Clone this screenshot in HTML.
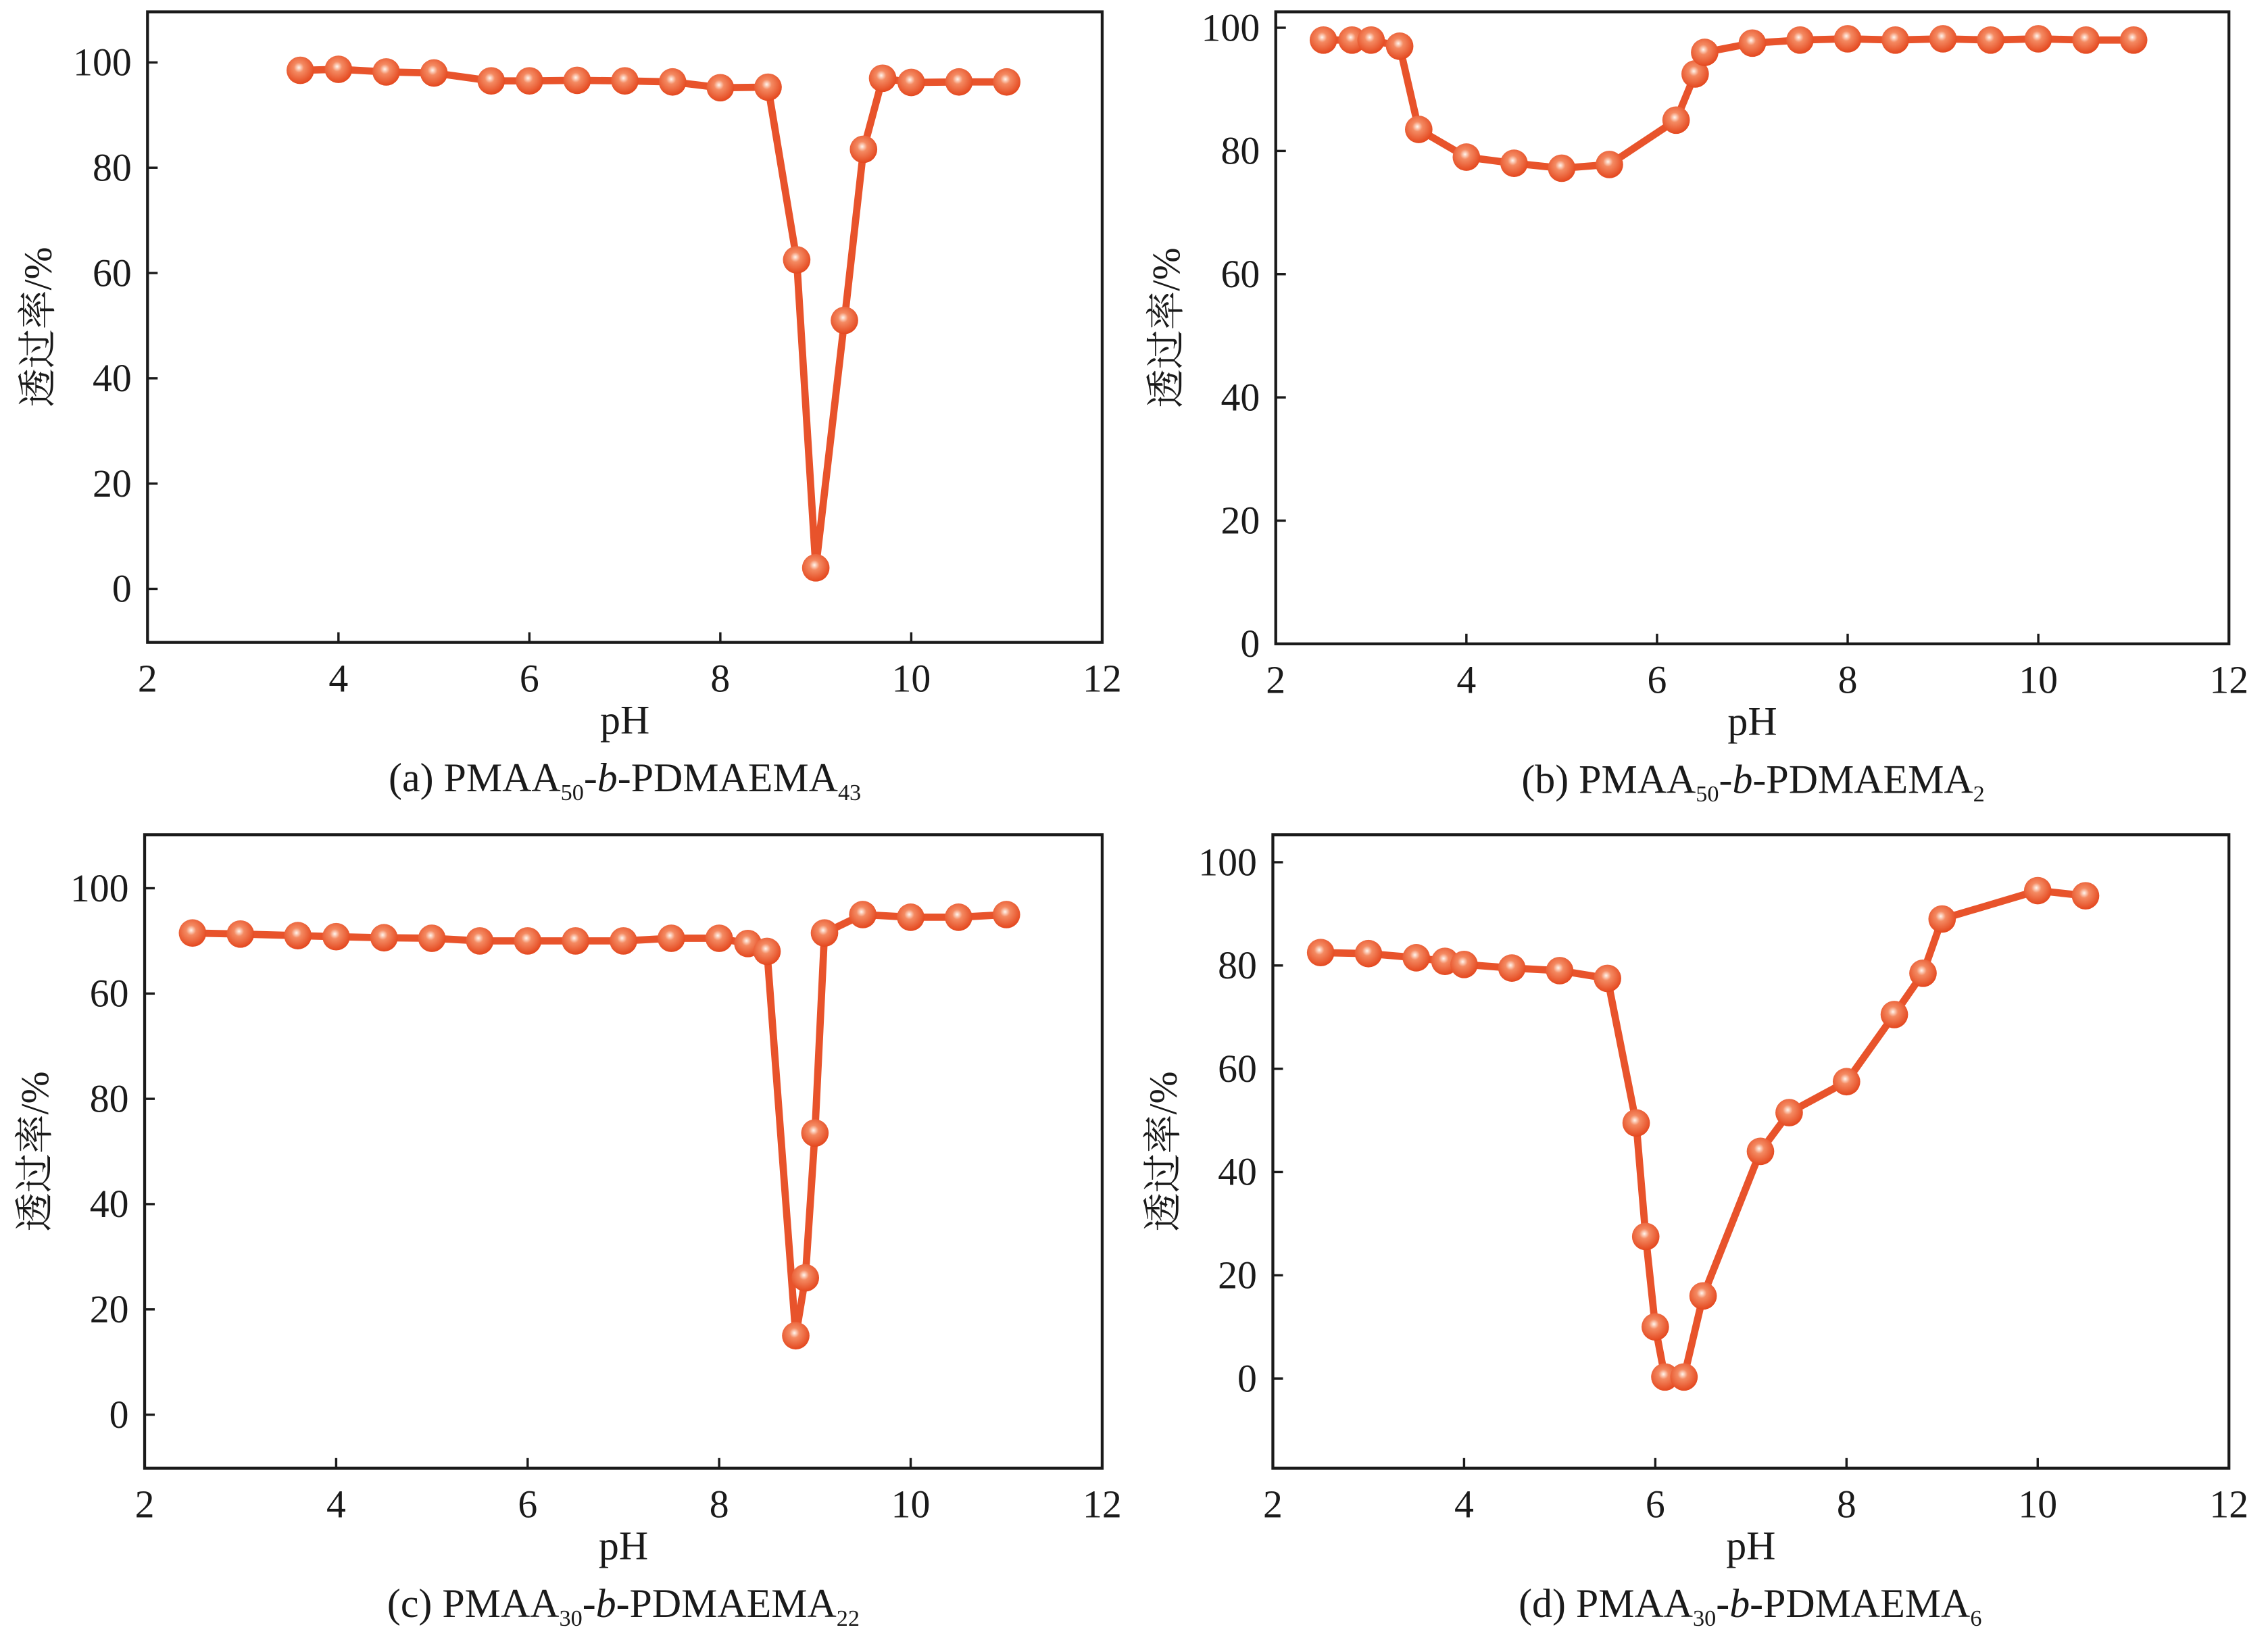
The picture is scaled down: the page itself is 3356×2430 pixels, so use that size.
<!DOCTYPE html>
<html><head><meta charset="utf-8"><style>
html,body{margin:0;padding:0;background:#fff}
svg{display:block}
text{font-family:"Liberation Serif","Noto Serif CJK SC",serif;fill:#1a1a1a}
</style></head><body>
<svg id="fig" width="3356" height="2430" viewBox="0 0 1568 1135" xmlns="http://www.w3.org/2000/svg">
<defs>
<radialGradient id="ball" cx="0.45" cy="0.4" r="0.6">
<stop offset="0" stop-color="#fff6ee"/><stop offset="0.3" stop-color="#f48a62"/><stop offset="1" stop-color="#e4471e"/>
</radialGradient>
</defs>
</svg>
<script>
const xA=[3.6,4,4.5,5,5.6,6,6.5,7,7.5,8,8.5,8.8,9,9.3,9.5,9.7,10,10.5,11];
const yA=[98.5,98.7,98.2,98,96.5,96.5,96.6,96.5,96.3,95.2,95.3,62.5,4,51,83.5,97,96.2,96.3,96.3];
const xB=[2.5,2.8,3,3.3,3.5,4,4.5,5,5.5,6.2,6.4,6.5,7,7.5,8,8.5,9,9.5,10,10.5,11];
const yB=[98,98,98,97,83.5,79,78,77.2,77.8,85,92.5,96,97.5,98,98.2,98,98.2,98,98.2,98,98];
const xC=[2.5,3,3.6,4,4.5,5,5.5,6,6.5,7,7.5,8,8.3,8.5,8.8,8.9,9,9.1,9.5,10,10.5,11];
const yC=[91.5,91.3,91,90.8,90.6,90.5,90,90,90,90,90.5,90.5,89.5,88,15,26,53.5,91.5,95,94.5,94.5,95];
const xD=[2.5,3,3.5,3.8,4,4.5,5,5.5,5.8,5.9,6,6.1,6.3,6.5,7.1,7.4,8,8.5,8.8,9,10,10.5];
const yD=[82.5,82.3,81.5,80.8,80.2,79.5,79,77.5,49.5,27.5,10,0.3,0.3,16,44,51.5,57.5,70.5,78.5,89,94.5,93.5];
const xTicks=[2,4,6,8,10,12];
const yTicksA=[0,20,40,60,80,100];
const yLabelsA=["0","20","40","60","80","100"];
const yLabelsC=["0","20","40","80","60","100"];
const panels=[
 {id:'a',L:102,R:762,T:8,B:444,y0:407,y100:43,xs:xA,ys:yA,lab:yLabelsA,cap:['(a) PMAA','50','-','b','-PDMAEMA','43'],cx:432},
 {id:'b',L:882,R:1541,T:8,B:445,y0:445,y100:19,xs:xB,ys:yB,lab:yLabelsA,cap:['(b) PMAA','50','-','b','-PDMAEMA','2'],cx:1212},
 {id:'c',L:100,R:762,T:577,B:1015,y0:978,y100:614,xs:xC,ys:yC,lab:yLabelsC,cap:['(c) PMAA','30','-','b','-PDMAEMA','22'],cx:431},
 {id:'d',L:880,R:1541,T:577,B:1015,y0:953,y100:596,xs:xD,ys:yD,lab:yLabelsA,cap:['(d) PMAA','30','-','b','-PDMAEMA','6'],cx:1210}
];
const svg=document.getElementById('fig');
const NS='http://www.w3.org/2000/svg';
function mk(t,a,p){const e=document.createElementNS(NS,t);for(const k in a)e.setAttribute(k,a[k]);(p||svg).appendChild(e);return e;}
panels.forEach(p=>{
 const g=mk('g',{});
 
 
 const sx=v=>p.L+(v-2)/10*(p.R-p.L);
 const sy=v=>p.y0-(v/100)*(p.y0-p.y100);
 const fr=mk('rect',{x:p.L,y:p.T,width:p.R-p.L,height:p.B-p.T,fill:'none',stroke:'#1a1a1a','stroke-width':2},g);
 
 
 xTicks.forEach(v=>{
  const x=sx(v);
  mk('line',{x1:x,y1:p.B,x2:x,y2:p.B-7,stroke:'#1a1a1a','stroke-width':1.6},g);
  const t=mk('text',{x:x,y:p.B+34,'text-anchor':'middle','font-size':27},g);
  t.textContent=v;
  
  
 });
 yTicksA.forEach((v,i)=>{
  const y=sy(v);
  mk('line',{x1:p.L,y1:y,x2:p.L+7,y2:y,stroke:'#1a1a1a','stroke-width':1.6},g);
  const t=mk('text',{x:p.L-11,y:y+9,'text-anchor':'end','font-size':27},g);
  t.textContent=p.lab[i];
  
  
 });
 const xl=mk('text',{x:(p.L+p.R)/2,y:p.B+63,'text-anchor':'middle','font-size':28},g);
 xl.textContent='pH';
 
 
 const ycy=(p.T+p.B)/2;
 const yl=mk('text',{x:p.L-73,y:ycy,'text-anchor':'middle','font-size':27,transform:`rotate(-90 ${p.L-73} ${ycy})`,'dominant-baseline':'middle'},g);
 yl.textContent='透过率/%';
 
 
 const cap=mk('text',{x:p.cx,y:p.B+103,'text-anchor':'middle','font-size':28},g);
 
 
 const c=p.cap;
 const s1=mk('tspan',{},cap);s1.textContent=c[0];
 const s2=mk('tspan',{'font-size':16,dy:6},cap);s2.textContent=c[1];
 const s3=mk('tspan',{dy:-6},cap);s3.textContent=c[2];
 const s4=mk('tspan',{'font-style':'italic'},cap);s4.textContent=c[3];
 const s5=mk('tspan',{},cap);s5.textContent=c[4];
 const s6=mk('tspan',{'font-size':16,dy:6},cap);s6.textContent=c[5];
 const pts=p.xs.map((x,i)=>sx(x)+','+sy(p.ys[i])).join(' ');
 const ln=mk('polyline',{points:pts,fill:'none',stroke:'#e8532b','stroke-width':5,'stroke-linejoin':'round'},g);
 
 
 p.xs.forEach((x,i)=>{
  const m=mk('circle',{cx:sx(x),cy:sy(p.ys[i]),r:9.5,fill:'url(#ball)'},g);
  
  
 });
});
</script>
</body></html>
